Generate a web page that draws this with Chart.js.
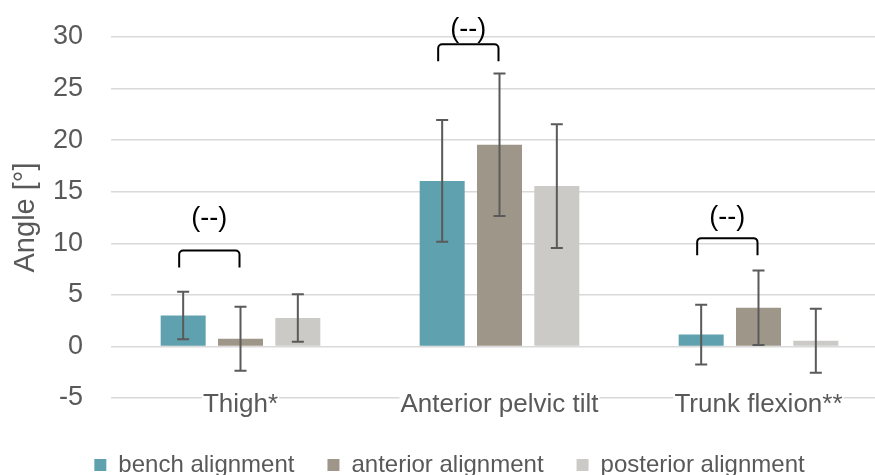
<!DOCTYPE html>
<html><head><meta charset="utf-8">
<script src="https://cdn.jsdelivr.net/npm/chart.js@4.4.0/dist/chart.umd.min.js"></script>
<style>
html,body{margin:0;padding:0;overflow:hidden;background:#fff;width:875px;height:475px;}
#wrap{position:absolute;left:0;top:0;width:900px;height:487px;}
</style></head>
<body><div id="wrap"><canvas id="c" width="900" height="487"></canvas></div>
<script>
const categories = ['Thigh*', 'Anterior pelvic tilt', 'Trunk flexion**'];
const seriesNames = ['bench alignment', 'anterior alignment', 'posterior alignment'];
const benchMean = [3.0, 16.05, 1.15];
const benchSD = [2.3, 5.9, 2.9];
const anteriorMean = [0.75, 19.55, 3.75];
const anteriorSD = [3.1, 6.9, 3.6];
const posteriorMean = [2.75, 15.55, 0.55];
const posteriorSD = [2.3, 6.0, 3.1];
const yTicks = [-5, 0, 5, 10, 15, 20, 25, 30];
const yTitle = 'Angle [°]';
const sigLabel = '(--)';
const bracketTop = [9.3, 29.3, 10.5];
const bracketTextLevel = [12.4, 30.7, 12.45];

const FAMILY = '"Liberation Sans", Arial, Helvetica, sans-serif';
const GREY = '#595959';

const noLabelClip = {
  id: 'noLabelClip',
  beforeDraw(chart) {
    const xs = chart.scales.x;
    if (xs) xs._computeLabelArea = function () { return undefined; };
  }
};

const overlay = {
  id: 'overlay',
  afterDatasetsDraw(chart) {
    const ctx = chart.ctx, ys = chart.scales.y;
    ctx.save();
    ctx.strokeStyle = '#5a5a5a';
    ctx.lineWidth = 2;
    chart.data.datasets.forEach((ds, di) => {
      const meta = chart.getDatasetMeta(di);
      meta.data.forEach((bar, i) => {
        const m = ds.data[i], s = ds.sd[i];
        const yt = ys.getPixelForValue(m + s), yb = ys.getPixelForValue(m - s);
        ctx.beginPath();
        ctx.moveTo(bar.x, yt); ctx.lineTo(bar.x, yb);
        ctx.moveTo(bar.x - 6, yt); ctx.lineTo(bar.x + 6, yt);
        ctx.moveTo(bar.x - 6, yb); ctx.lineTo(bar.x + 6, yb);
        ctx.stroke();
      });
    });
    const m0 = chart.getDatasetMeta(0), m1 = chart.getDatasetMeta(1);
    ctx.strokeStyle = '#000'; ctx.fillStyle = '#000'; ctx.lineWidth = 2;
    ctx.font = '27px ' + FAMILY;
    ctx.textAlign = 'center'; ctx.textBaseline = 'alphabetic';
    categories.forEach((c, i) => {
      const x1 = m0.data[i].x - 4, x2 = m1.data[i].x - 1;
      const yt = ys.getPixelForValue(bracketTop[i]);
      const leg = 17, r = 4;
      ctx.beginPath();
      ctx.moveTo(x1, yt + leg);
      ctx.arcTo(x1, yt, x2, yt, r);
      ctx.arcTo(x2, yt, x2, yt + leg, r);
      ctx.lineTo(x2, yt + leg);
      ctx.stroke();
      ctx.fillText(sigLabel, (x1 + x2) / 2, ys.getPixelForValue(bracketTextLevel[i]) + 7);
    });
    ctx.restore();
  }
};

new Chart(document.getElementById('c'), {
  type: 'bar',
  data: {
    labels: categories,
    datasets: [
      {label: seriesNames[0], data: benchMean, sd: benchSD, backgroundColor: '#5fa1ae'},
      {label: seriesNames[1], data: anteriorMean, sd: anteriorSD, backgroundColor: '#9f968a'},
      {label: seriesNames[2], data: posteriorMean, sd: posteriorSD, backgroundColor: '#cbcac6'}
    ]
  },
  options: {
    responsive: false,
    animation: false,
    devicePixelRatio: 1,
    categoryPercentage: 0.664,
    barPercentage: 0.785,
    layout: {padding: {top: 37, right: 12, left: 11, bottom: 0}},
    plugins: {
      tooltip: {enabled: false},
      legend: {
        position: 'bottom',
        labels: {color: GREY, font: {size: 24, family: FAMILY}, boxWidth: 12, boxHeight: 12, padding: 33}
      }
    },
    scales: {
      x: {
        grid: {display: false, drawTicks: false},
        border: {display: false},
        ticks: {
          color: GREY, font: {size: 26, family: FAMILY}, padding: -9,
          showLabelBackdrop: true, backdropColor: '#ffffff', backdropPadding: {x: 1, y: 0}
        },
        afterFit(s) { s.height = 22; s.paddingLeft = 0; s.paddingRight = 0; }
      },
      y: {
        min: -5, max: 30,
        afterBuildTicks(s) { s.ticks = yTicks.map(v => ({value: v})); },
        grid: {color: '#d9d9d9', lineWidth: 1.5, drawTicks: false},
        border: {display: false},
        ticks: {color: GREY, font: {size: 27, family: FAMILY}, padding: 28},
        title: {display: true, text: yTitle, color: GREY, font: {size: 29, family: FAMILY}, padding: {top: -2, bottom: 0}},
        afterFit(s) { s.width = 100; s.paddingTop = 0; s.paddingBottom = 0; }
      }
    }
  },
  plugins: [noLabelClip, overlay]
});
</script>
</body></html>
